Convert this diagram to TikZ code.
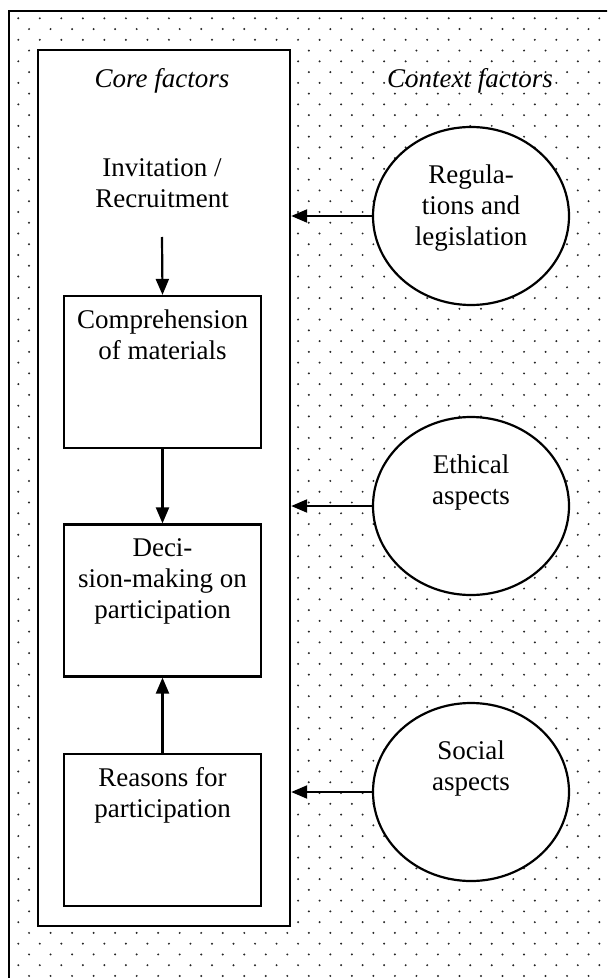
\documentclass[tikz,border=0pt]{standalone}
\usepackage{fontspec}
\setmainfont{Liberation Serif}
\usetikzlibrary{shapes.geometric, arrows.meta, calc}
\begin{document}
\begin{tikzpicture}[x=0.5pt, y=-0.5pt,
  lw/.style={line width=1.1pt},
  frame/.style={draw, lw, rectangle, inner sep=0, anchor=north west},
  stepbox/.style={draw, lw, fill=white, rectangle, inner sep=0, minimum width=98.5pt, minimum height=76pt},
  ctx/.style={draw, lw, fill=white, ellipse, inner sep=0, minimum width=98pt, minimum height=89pt},
  tx/.style={anchor=north, inner sep=0, align=center, font=\fontsize{13.5}{15.5}\selectfont},
  head/.style={anchor=base, inner sep=0, font=\fontsize{13.5}{15.5}\selectfont\itshape},
  arr/.style={lw, -{Triangle[length=8pt, width=6.5pt]}},
  dot/.style={fill=black!85}
]
\useasboundingbox (0,0) rectangle (607,978);
\clip (0,0) rectangle (607,978);
\fill[white] (0,0) rectangle (607,978);
% outer frame (cropped at right and bottom)
\node[frame, minimum width=306pt, minimum height=492.5pt] (outer) at (8,10) {};
% dot pattern
\begin{scope}
  \clip (9,11) rectangle (607,978);
  \foreach \j in {0,...,45} {
    \foreach \k in {0,...,27} {
      \fill[dot] (18.3+21.52*\k, 18.3+21.52*\j) circle[radius=0.55pt];
      \fill[dot] (29.06+21.52*\k, 29.06+21.52*\j) circle[radius=0.55pt];
    }
  }
\end{scope}
% core frame
\node[frame, fill=white, minimum width=126pt, minimum height=438pt] (core) at (37,49) {};
% headings
\node[head] (coreh) at (162,88) {Core factors};
\node[head] (ctxh) at (470,88) {Context factors};
% core boxes
\node[tx] (inv) at (162,156) {\rule{0pt}{10pt}Invitation /\\Recruitment};
\node[stepbox] (comp) at (162.5,372) {};
\node[stepbox] (dec) at (162.5,600.5) {};
\node[stepbox] (rea) at (162.5,830) {};
\node[tx] (compt) at ($(comp.north)+(0,13)$) {\rule{0pt}{10pt}Comprehension\\of materials};
\node[tx] (dect) at ($(dec.north)+(0,13)$) {\rule{0pt}{10pt}Deci-\\sion-making on\\participation};
\node[tx] (reat) at ($(rea.north)+(0,13)$) {\rule{0pt}{10pt}Reasons for\\participation};
% context ellipses
\node[ctx] (reg) at (471,216) {};
\node[ctx] (eth) at (471,506) {};
\node[ctx] (soc) at (471,792) {};
\node[tx] (regt) at ($(reg.north)+(0,37.5)$) {\rule{0pt}{10pt}Regula-\\tions and\\legislation};
\node[tx] (etht) at ($(eth.north)+(0,37.5)$) {\rule{0pt}{10pt}Ethical\\aspects};
\node[tx] (soct) at ($(soc.north)+(0,37.5)$) {\rule{0pt}{10pt}Social\\aspects};
% connectors
\coordinate (invend) at (162,237);
\draw[arr] (invend) -- (comp.north);
\draw[arr] (comp.south) -- (dec.north);
\draw[arr] (rea.north) -- (dec.south);
\draw[arr] (reg.west) -- (reg.west -| core.east);
\draw[arr] (eth.west) -- (eth.west -| core.east);
\draw[arr] (soc.west) -- (soc.west -| core.east);
\end{tikzpicture}
\end{document}
